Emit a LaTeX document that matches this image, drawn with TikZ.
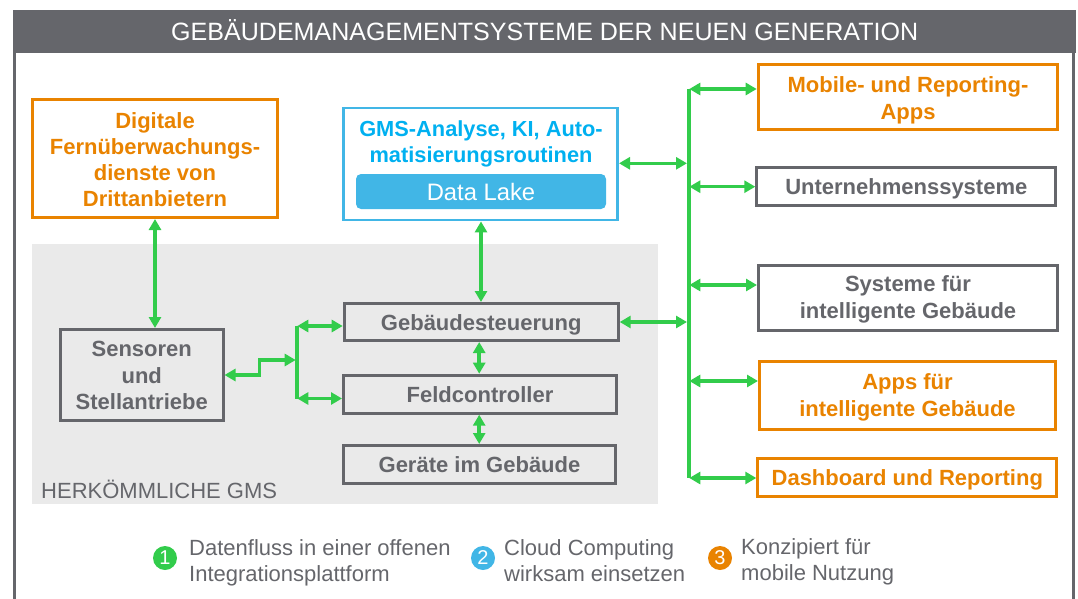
\documentclass[tikz,border=0pt]{standalone}
\usepackage{fontspec}
\setmainfont{Liberation Sans}
\usetikzlibrary{arrows.meta}
\definecolor{gmsgray}{HTML}{65666B}
\definecolor{gmsgreen}{HTML}{32CC4B}
\definecolor{gmsorange}{HTML}{E98300}
\definecolor{gmsblue}{HTML}{41B6E6}
\definecolor{gmstext}{HTML}{00B0F0}
\definecolor{gmsback}{HTML}{EAEAEA}
\newcommand{\linepad}[1]{\rule{0pt}{#1}}
\tikzset{
  gbox/.style={draw=gmsgray,line width=3pt,text=gmsgray,font=\bfseries\fontsize{22}{26.5}\selectfont,align=center,anchor=north west,inner sep=0pt},
  obox/.style={gbox,draw=gmsorange,text=gmsorange},
  oneline/.style={text height=16pt,text depth=0pt},
  link/.style={draw=gmsgreen,line width=3.5pt,{Triangle[length=11pt,width=12pt]}-{Triangle[length=11pt,width=12pt]}},
  bus/.style={draw=gmsgreen,line width=3.8pt},
  badge/.style={circle,fill=#1,text=white,inner sep=0pt,minimum size=24pt,font=\fontsize{20}{20}\selectfont},
  note/.style={text=gmsgray,font=\fontsize{22}{26}\selectfont,align=left,anchor=west,inner sep=0pt}
}
\begin{document}
\begin{tikzpicture}[x=1pt,y=-1pt]
  \useasboundingbox (0,0) rectangle (1078,599);
  % frame and title
  \draw[gmsgray,line width=3pt] (14,48) -- (14,599) (1073,48) -- (1073,599);
  \node (title) [fill=gmsgray,text=white,anchor=north west,minimum width=1063,minimum height=43,inner sep=0pt,text height=18pt,text depth=0pt,font=\fontsize{25.05}{30}\selectfont] at (13,10) {GEBÄUDEMANAGEMENTSYSTEME DER NEUEN GENERATION};
  \node (legacy) [fill=gmsback,anchor=north west,minimum width=626,minimum height=260,inner sep=0pt] at (32,244) {};
  \node (legacylabel) [text=gmsgray,anchor=west,inner sep=0pt,font=\fontsize{22}{25}\selectfont] at (41,489) {HERKÖMMLICHE GMS};
  % boxes on the left
  \node (remote) [obox,minimum width=245,minimum height=118,font=\bfseries\fontsize{22}{26}\selectfont] at (31,98) {\linepad{19pt}Digitale\\Fernüberwachungs-\\dienste von\\Drittanbietern};
  \node (sensors) [gbox,minimum width=162.500,minimum height=91] at (59,328) {\linepad{17pt}Sensoren\\und\\Stellantriebe};
  % boxes in the middle
  \node (cloud) [draw=gmsblue,line width=2.700pt,anchor=north west,minimum width=274,minimum height=112,inner sep=0pt] at (342.300,106.700) {};
  \node (cloudtext) [text=gmstext,align=center,inner sep=0pt,font=\bfseries\fontsize{21.8}{26}\selectfont] at (481,144) {GMS-Analyse, KI, Auto-\\matisierungsroutinen};
  \node (lake) [fill=gmsblue,rounded corners=5pt,text=white,minimum width=250,minimum height=35,inner sep=0pt,font=\fontsize{23.800}{26}\selectfont] at (481,191.500) {Data Lake};
  \node (control) [gbox,oneline,minimum width=274,minimum height=37] at (342.700,302) {Gebäudesteuerung};
  \node (field) [gbox,oneline,minimum width=273,minimum height=38] at (342,373.700) {Feldcontroller};
  \node (devices) [gbox,oneline,minimum width=272,minimum height=38] at (342,444) {Geräte im Gebäude};
  % boxes on the right
  \node (mobile) [obox,minimum width=299.600,minimum height=64.700] at (756.700,63.300) {\linepad{22pt}Mobile- und Reporting-\\Apps};
  \node (enterprise) [gbox,oneline,minimum width=299,minimum height=38] at (755.300,165.700) {Unternehmenssysteme};
  \node (smart) [gbox,minimum width=299,minimum height=65] at (757,263.500) {\linepad{20pt}Systeme für\\intelligente Gebäude};
  \node (apps) [obox,minimum width=296,minimum height=67.400] at (758,360.300) {\linepad{20pt}Apps für\\intelligente Gebäude};
  \node (dash) [obox,oneline,minimum width=299,minimum height=38] at (756.300,457) {Dashboard und Reporting};
  % junctions
  \coordinate (bustop) at (689.300,89);
  \coordinate (busbottom) at (689.300,478);
  \coordinate (busenterprise) at (689.300,186.700);
  \coordinate (bussmart) at (689.300,285);
  \coordinate (busapps) at (689.300,381);
  \coordinate (buscloud) at (687,163.300);
  \coordinate (buscontrol) at (687,322);
  \coordinate (splittop) at (297.300,326);
  \coordinate (splitbottom) at (297.300,398.500);
  \coordinate (splitmid) at (295.700,360);
  \coordinate (stepa) at (259.700,375);
  \coordinate (stepb) at (259.700,360);
  \path[bus] (bustop) -- (busbottom) (splittop) -- (splitbottom);
  \path[every edge/.style={link}]
    (bustop) edge (mobile.west |- bustop)
    (busenterprise) edge (enterprise.west |- busenterprise)
    (bussmart) edge (smart.west |- bussmart)
    (busapps) edge (apps.west |- busapps)
    (busbottom) edge (dash.west |- busbottom)
    (cloud.east |- buscloud) edge (buscloud)
    (control.east |- buscontrol) edge (buscontrol)
    (remote.south -| 155,0) edge (sensors.north -| 155,0)
    (cloud.south -| 481,0) edge (control.north -| 481,0)
    (control.south -| 479.200,0) edge (field.north -| 479.200,0)
    (field.south -| 479.200,0) edge (devices.north -| 479.200,0)
    (splittop) edge (control.west |- splittop)
    (splitbottom) edge (field.west |- splitbottom);
  \draw[link] (sensors.east |- stepa) -- (stepa) -- (stepb) -- (splitmid);
  % legend
  \node (one) [badge=gmsgreen] at (165,558) {1};
  \node (onetext) [note] at (189,563) {Datenfluss in einer offenen\\Integrationsplattform};
  \node (two) [badge=gmsblue] at (483,558) {2};
  \node (twotext) [note] at (504,561) {Cloud Computing\\wirksam einsetzen};
  \node (three) [badge=gmsorange] at (720,558) {3};
  \node (threetext) [note] at (741,562) {Konzipiert für\\mobile Nutzung};
\end{tikzpicture}
\end{document}
